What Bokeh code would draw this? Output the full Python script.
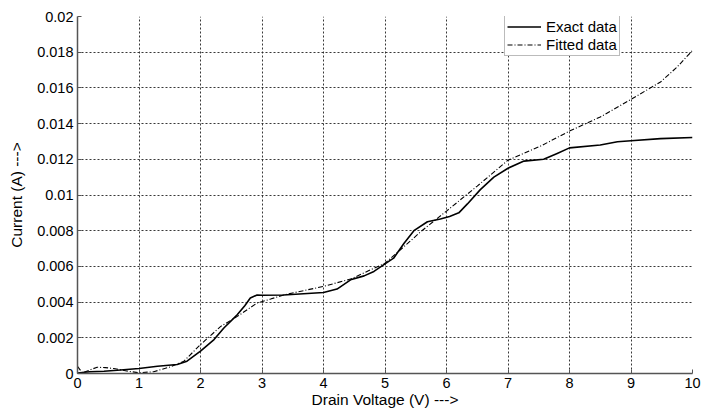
from bokeh.plotting import figure
from bokeh.models import FixedTicker, NumeralTickFormatter, Legend, LegendItem, Range1d
from bokeh.embed import file_html
from bokeh.resources import INLINE

# Exact data (Drain voltage V, current A)
v_exact = [0, 0.2, 0.43, 0.7, 1.0, 1.3, 1.62, 1.78, 2.0, 2.22, 2.38, 2.6, 2.72, 2.81,
           2.92, 3.0, 3.35, 4.0, 4.22, 4.44, 4.66, 4.82, 5.0, 5.14, 5.31, 5.47, 5.69,
           5.9, 6.05, 6.2, 6.34, 6.55, 6.77, 7.0, 7.26, 7.58, 7.8, 8.0, 8.5, 8.78,
           9.0, 9.48, 10.0]
i_exact = [0.00003, 0.0001, 0.00013, 0.0002, 0.00028, 0.00041, 0.0005, 0.00069,
           0.00125, 0.0019, 0.00255, 0.0033, 0.0038, 0.00423, 0.0044, 0.00438,
           0.0044, 0.00454, 0.00473, 0.00525, 0.00547, 0.00572, 0.00614, 0.00646,
           0.0073, 0.0080, 0.0085, 0.00866, 0.0088, 0.0090, 0.0095, 0.0103, 0.0110,
           0.0115, 0.0119, 0.0120, 0.01233, 0.01264, 0.0128, 0.01298, 0.01304,
           0.01316, 0.01322]

# Fitted data
v_fit = [0, 0.08, 0.2, 0.32, 0.45, 0.59, 0.8, 1.0, 1.24, 1.51, 1.73, 2.0, 2.33, 2.6,
         2.92, 3.14, 3.35, 4.0, 4.44, 5.0, 5.31, 5.6, 6.0, 6.5, 7.0, 7.53, 8.0, 8.5,
         9.0, 9.48, 9.75, 10.0]
i_fit = [0.0004, 0.00003, 0.0002, 0.00035, 0.00033, 0.00028, 0.00014, 0.00004,
         0.0001, 0.00037, 0.00069, 0.00162, 0.00264, 0.0032, 0.00395, 0.00417,
         0.0044, 0.00488, 0.00529, 0.00618, 0.00711, 0.0080, 0.0091, 0.0105,
         0.01195, 0.01274, 0.01358, 0.01437, 0.01536, 0.01633, 0.01717, 0.0181]

x_ticks = [0, 1, 2, 3, 4, 5, 6, 7, 8, 9, 10]
y_ticks = [0, 0.002, 0.004, 0.006, 0.008, 0.01, 0.012, 0.014, 0.016, 0.018, 0.02]

FONT = "Liberation Sans"

p = figure(width=715, height=410, output_backend="svg", toolbar_location=None,
           x_range=Range1d(0, 10), y_range=Range1d(0, 0.02),
           min_border_left=77, min_border_right=23, min_border_top=16,
           min_border_bottom=36)
p.outline_line_color = None
p.background_fill_color = "white"
p.border_fill_color = "white"

l1 = p.line(v_exact, i_exact, line_color="black", line_width=1.6, line_join="round")
l2 = p.line(v_fit, i_fit, line_color="black", line_width=1.1, line_dash="5 2 1 2")

for ax in (p.xaxis[0], p.yaxis[0]):
    ax.major_tick_in = 4
    ax.major_tick_out = 0
    ax.minor_tick_line_color = None
    ax.major_label_text_font = FONT
    ax.major_label_text_font_size = "14.5px"
    ax.major_label_text_color = "black"
    ax.axis_label_text_font = FONT
    ax.axis_label_text_font_size = "15.5px"
    ax.axis_label_text_font_style = "normal"
    ax.axis_label_text_color = "black"
    ax.axis_line_color = "#555555"
    ax.axis_line_width = 1.5
    ax.major_tick_line_color = "#555555"

p.xaxis[0].ticker = FixedTicker(ticks=x_ticks)
p.yaxis[0].ticker = FixedTicker(ticks=y_ticks)
p.yaxis[0].formatter = NumeralTickFormatter(format="0.[000]")
p.xaxis.axis_label = "Drain Voltage (V) --->"
p.yaxis.axis_label = "Current (A) --->"
p.xaxis[0].major_label_standoff = 4
p.xaxis[0].axis_label_standoff = 0
p.yaxis[0].major_label_standoff = 4
p.yaxis[0].axis_label_standoff = 9

for g in (p.xgrid[0], p.ygrid[0]):
    g.grid_line_color = "#222222"
    g.grid_line_dash = "2 2"
    g.grid_line_width = 1
    g.grid_line_alpha = 0.9

legend = Legend(items=[LegendItem(label="Exact data", renderers=[l1]),
                       LegendItem(label="Fitted data", renderers=[l2])],
                location=(427, 317))
legend.label_text_font = FONT
legend.label_text_font_size = "15px"
legend.label_text_color = "black"
legend.border_line_color = "#777777"
legend.border_line_width = 1
legend.background_fill_color = "white"
legend.background_fill_alpha = 1
legend.padding = 2
legend.spacing = 1
legend.margin = 0
legend.glyph_width = 34
legend.glyph_height = 15
legend.label_height = 15
legend.label_standoff = 5
p.add_layout(legend)

open("out.html", "w").write(file_html(p, INLINE))
